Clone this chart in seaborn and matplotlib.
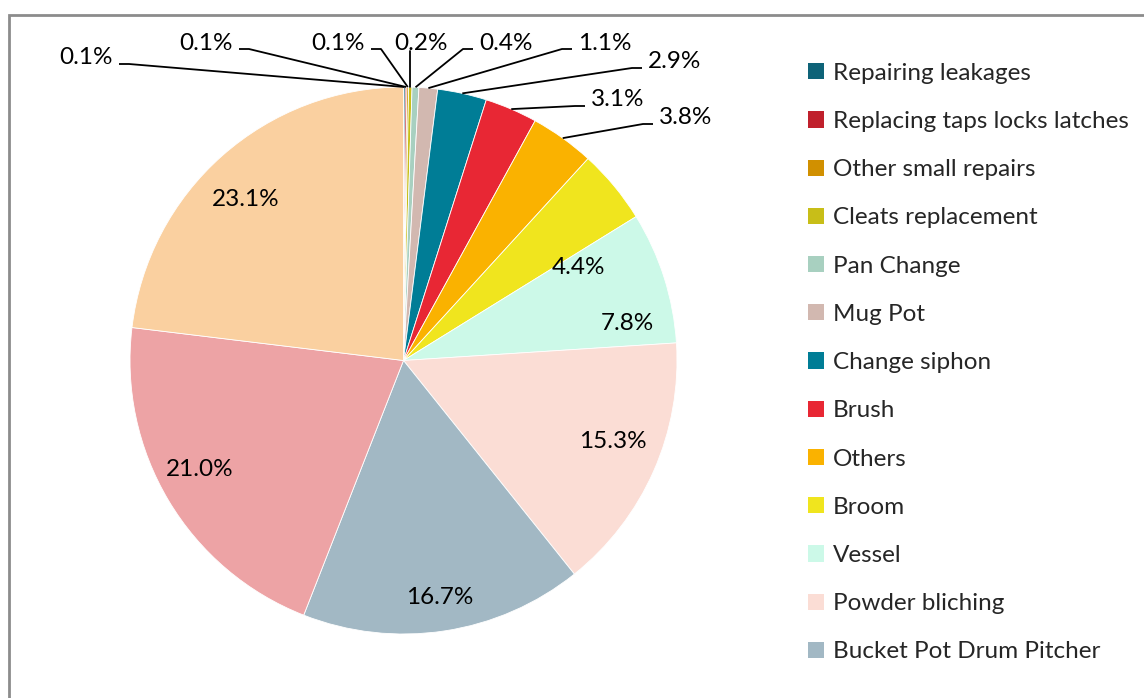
import numpy as np
import matplotlib
matplotlib.use("Agg")
import matplotlib.pyplot as plt
import seaborn as sns
from matplotlib.patches import Patch, Rectangle

# =====================================================
# Data
# =====================================================

categories = [
    "Repairing leakages",
    "Replacing taps locks latches",
    "Other small repairs",
    "Cleats replacement",
    "Pan Change",
    "Mug Pot",
    "Change siphon",
    "Brush",
    "Others",
    "Broom",
    "Vessel",
    "Powder bliching",
    "Bucket Pot Drum Pitcher",
    "",
    "",
]

shares = [0.1, 0.1, 0.1, 0.2, 0.4, 1.1, 2.9, 3.1, 3.8, 4.4, 7.8, 15.3, 16.7, 21.0, 23.1]

colors = [
    "#0E6378", "#C0202C", "#D19000", "#C8BE18", "#A8D0C0",
    "#D2B8B0", "#007D96", "#E82734", "#FAB200", "#F0E51E",
    "#CCF9E8", "#FBDDD5", "#A2B8C4", "#EDA3A5", "#FAD0A0",
]

# only the first 13 entries are visible in the legend
n_legend = 13

# =====================================================
# Setup
# =====================================================

sns.set_theme(style="white")
plt.rcParams["font.family"] = ["Lato", "DejaVu Sans"]

FS = 17.5
W, H = 1144, 698
fig = plt.figure(figsize=(W / 100, H / 100), dpi=100)

cx, cy, r = 403.5, 360.5, 273.5
ax = fig.add_axes([(cx - r) / W, (H - cy - r) / H, 2 * r / W, 2 * r / H])

wedges, _ = ax.pie(
    shares,
    colors=colors,
    startangle=90,
    counterclock=False,
    radius=1,
    wedgeprops=dict(edgecolor="white", linewidth=0.6),
)
ax.set_xlim(-1, 1)
ax.set_ylim(-1, 1)
ax.set_aspect("equal")
ax.axis("off")


def px_to_data(px, py):
    return (px - cx) / r, (cy - py) / r


# label centres in pixels (layout)
label_px = [
    (86, 58), (206, 43), (338, 43), (421, 43), (506, 43),
    (605, 43), (675, 62), (618, 100), (686, 118),
    (578, 268), (627, 323), (613, 441), (440, 598), (200, 470), (246, 199),
]
# side where the leader line meets the label: -1 left end, 1 right end, 0 below
leader_side = [1, 1, 1, 0, -1, -1, -1, -1, -1, None, None, None, None, None, None]
half_w = 27

cum = np.cumsum([0] + shares[:-1])
total = sum(shares)
for i, v in enumerate(shares):
    txt = f"{v:.1f}%"
    lx, ly = px_to_data(*label_px[i])
    ax.text(lx, ly, txt, ha="center", va="center", fontsize=FS, color="black")
    side = leader_side[i]
    if side is None:
        continue
    mid = (cum[i] + v / 2) / total * 2 * np.pi
    ax_, ay_ = np.sin(mid), np.cos(mid)
    if side == 0:
        ex, ey = px_to_data(label_px[i][0] - 13, label_px[i][1] + 8)
        ax.plot([ax_, ax_], [ay_, ey], color="black", lw=1.3, clip_on=False)
        continue
    tx = label_px[i][0] + side * (half_w + 6)
    ty = label_px[i][1] + 6
    e1 = px_to_data(tx, ty)
    e2 = px_to_data(tx + side * 10, ty)
    ax.plot([ax_, e2[0], e1[0]], [ay_, e2[1], e1[1]], color="black", lw=1.3,
            solid_capstyle="butt", clip_on=False)

# =====================================================
# Legend
# =====================================================

handles = [Patch(facecolor=colors[i], edgecolor="none") for i in range(n_legend)]
fig.legend(
    handles,
    categories[:n_legend],
    loc="upper left",
    bbox_to_anchor=(798 / W, 1 - 53 / H),
    frameon=False,
    fontsize=FS,
    handlelength=0.65,
    handleheight=0.65,
    handletextpad=0.4,
    labelspacing=1.12,
    borderaxespad=0,
)

# chart border (cut off at right and bottom)
fig.patches.append(
    Rectangle((9 / W, -0.1), 1.2, 1.1 - 15 / H, transform=fig.transFigure,
              fill=False, edgecolor="#8C8C8C", linewidth=2)
)

fig.savefig("out.png", dpi=100)
